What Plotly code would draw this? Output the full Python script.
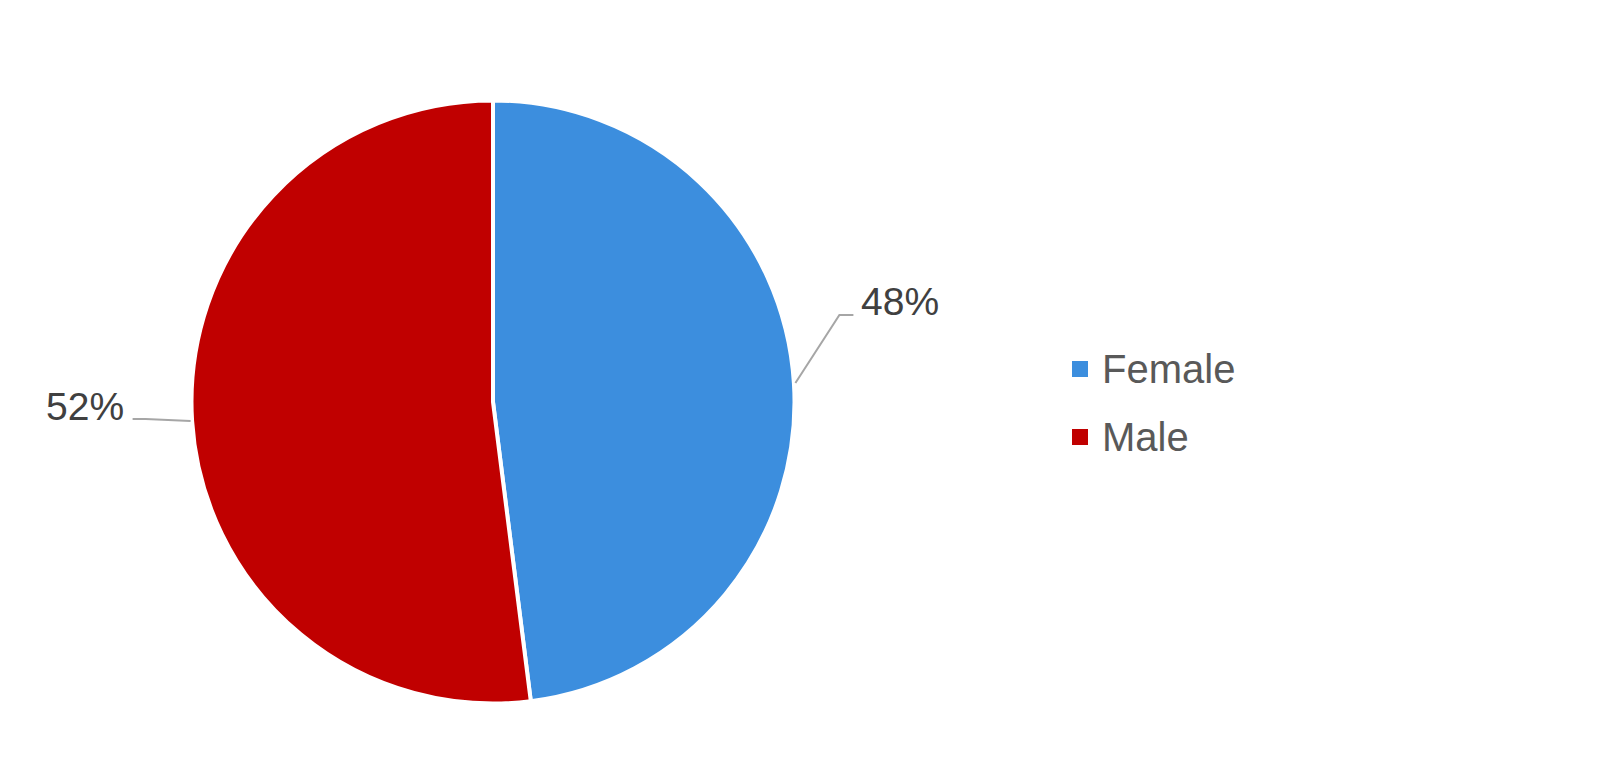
import math
import plotly.graph_objects as go

labels = ["Female", "Male"]
values = [48, 52]
colors = ["#3C8EDE", "#C00000"]

W, H = 1600, 764
cx, cy, R = 485, 394, 300  # pie centre / radius in pixels
RD = R * 1.005             # domain half-size giving drawn radius R

def px(x):
    return x / W

def py(y):
    return 1 - y / H

fig = go.Figure(go.Pie(
    labels=labels, values=values, sort=False, direction="clockwise", rotation=0,
    marker=dict(colors=colors, line=dict(color="white", width=4)),
    textinfo="none", hoverinfo="label+percent", showlegend=False,
    domain=dict(x=[px(cx - RD), px(cx + RD)], y=[py(cy + RD), py(cy - RD)]),
))

# leader lines and labels computed from the data angles
total = sum(values)
elbows = [(44, -68, 14), (-45, -2, -13)]  # (dx, dy, horizontal run) styling offsets
shapes, annots = [], []
cum = 0
for v, (ex, ey, run) in zip(values, elbows):
    mid = (cum + v / 2) / total * 2 * math.pi
    cum += v
    sx = cx + (R + 3) * math.sin(mid)
    sy = cy - (R + 3) * math.cos(mid)
    bx, by = sx + ex, sy + ey
    tx = bx + run
    path = f"M {px(sx)} {py(sy)} L {px(bx)} {py(by)} L {px(tx)} {py(by)}"
    shapes.append(dict(type="path", xref="paper", yref="paper", path=path,
                       line=dict(color="#A6A6A6", width=2)))
    right = run > 0
    annots.append(dict(
        xref="paper", yref="paper", x=px(tx + (6 if right else -7)), y=py(by - 13),
        text=f"{round(v / total * 100)}%", showarrow=False,
        xanchor="left" if right else "right", yanchor="middle",
        font=dict(size=39, color="#404040", family="Liberation Sans, Arial")))

# legend drawn from labels/colors
lx, ly0, gap, sq = 1064, 361, 68, 16
for i, (lab, col) in enumerate(zip(labels, colors)):
    yc = ly0 + i * gap
    shapes.append(dict(type="rect", xref="paper", yref="paper",
                       x0=px(lx), x1=px(lx + sq), y0=py(yc + sq / 2), y1=py(yc - sq / 2),
                       fillcolor=col, line=dict(width=0)))
    annots.append(dict(xref="paper", yref="paper", x=px(lx + 28), y=py(yc),
                       text=lab, showarrow=False, xanchor="left", yanchor="middle",
                       font=dict(size=40, color="#595959", family="Liberation Sans, Arial")))

fig.update_layout(
    width=W, height=H,
    margin=dict(l=0, r=0, t=0, b=0),
    paper_bgcolor="white", plot_bgcolor="white",
    shapes=shapes, annotations=annots,
    showlegend=False,
)
fig.write_html("out.html")
